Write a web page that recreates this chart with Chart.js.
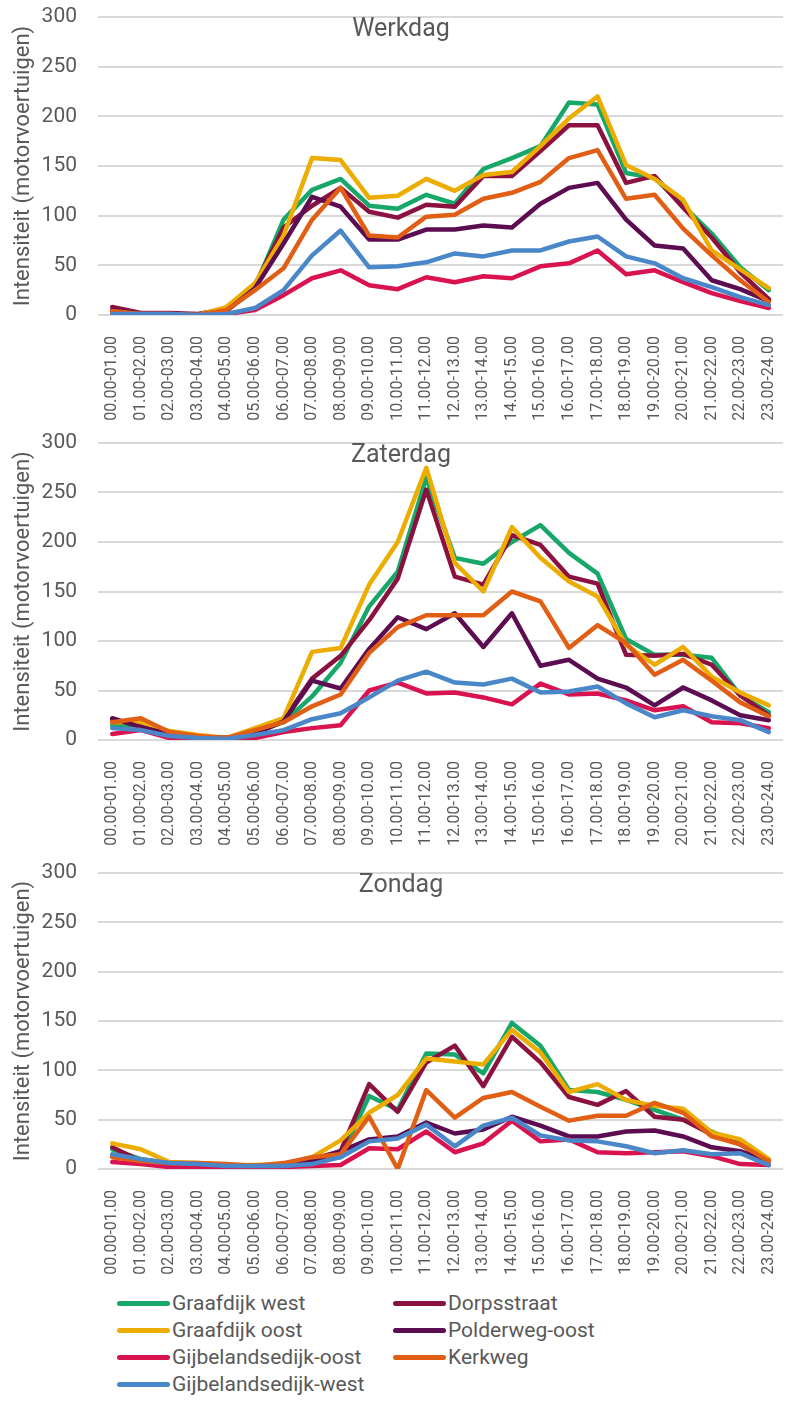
<!DOCTYPE html>
<html><head><meta charset="utf-8">
<script src="https://cdn.jsdelivr.net/npm/chart.js@4.4.1/dist/chart.umd.min.js"></script>
<style>
html,body{margin:0;padding:0;background:#fff;}
body{width:793px;height:1402px;overflow:hidden;position:relative;font-family:Roboto;}
canvas.panel{position:absolute;left:0;}
.item{position:absolute;display:flex;align-items:center;height:27px;line-height:27px;font-size:21px;color:#595959;white-space:nowrap;}
.swatch{width:53px;height:5px;border-radius:2.5px;margin-right:2px;flex:none;}
</style></head><body>
<canvas id="c1" class="panel" width="801" height="430" style="top:0px"></canvas>
<canvas id="c2" class="panel" width="801" height="430" style="top:430px"></canvas>
<canvas id="c3" class="panel" width="801" height="420" style="top:860px"></canvas>
<div id="legend"></div>
<script>
const hours = ["00.00-01.00","01.00-02.00","02.00-03.00","03.00-04.00","04.00-05.00","05.00-06.00",
  "06.00-07.00","07.00-08.00","08.00-09.00","09.00-10.00","10.00-11.00","11.00-12.00",
  "12.00-13.00","13.00-14.00","14.00-15.00","15.00-16.00","16.00-17.00","17.00-18.00",
  "18.00-19.00","19.00-20.00","20.00-21.00","21.00-22.00","22.00-23.00","23.00-24.00"];
const yTicks = [0, 50, 100, 150, 200, 250, 300];
const seriesNames = ["Graafdijk west","Dorpsstraat","Graafdijk oost","Polderweg-oost","Gijbelandsedijk-oost","Kerkweg","Gijbelandsedijk-west"];
const seriesColors = ["#17a768","#8b1240","#ecad00","#5c0c50","#d9134f","#e15e15","#4a87c9"];
const dayTitles = ["Werkdag","Zaterdag","Zondag"];
const yTitle = "Intensiteit (motorvoertuigen)";

// Werkdag
const wdGraafdijkWest   = [3,1,1,0,5,28,96,126,137,110,107,121,112,147,158,170,214,212,143,138,110,82,48,25];
const wdDorpsstraat     = [8,2,2,1,6,30,88,110,128,104,98,111,109,140,140,165,191,191,133,140,108,78,43,16];
const wdGraafdijkOost   = [3,1,1,0,8,32,80,158,156,118,120,137,125,141,144,170,198,220,151,137,116,65,46,27];
const wdPolderwegOost   = [5,1,1,0,4,27,72,119,109,76,76,86,86,90,88,112,128,133,96,70,67,35,26,14];
const wdGijbelandOost   = [1,1,1,0,1,5,20,37,45,30,26,38,33,39,37,49,52,65,41,45,33,22,14,7];
const wdKerkweg         = [4,1,1,0,5,25,47,96,128,80,78,99,101,117,123,134,158,166,117,121,87,60,35,13];
const wdGijbelandWest   = [1,1,1,0,1,7,25,60,85,48,49,53,62,59,65,65,74,79,59,52,37,28,18,10];

// Zaterdag
const zaGraafdijkWest   = [15,15,5,3,2,8,18,44,78,135,170,265,184,178,200,217,189,168,102,86,86,83,45,28];
const zaDorpsstraat     = [20,15,6,3,2,8,20,62,85,121,163,253,165,157,207,197,165,158,86,85,87,76,45,25];
const zaGraafdijkOost   = [18,18,9,5,2,12,22,89,93,157,200,275,179,150,215,184,160,145,96,76,94,64,48,35];
const zaPolderwegOost   = [22,13,6,3,2,6,19,60,52,92,124,112,128,94,128,75,81,62,53,35,53,40,25,20];
const zaGijbelandOost   = [6,10,2,1,1,2,8,12,15,50,58,47,48,43,36,57,46,47,40,30,34,18,17,12];
const zaKerkweg         = [18,22,8,4,2,10,18,34,46,88,114,126,126,126,150,140,93,116,98,66,81,60,38,24];
const zaGijbelandWest   = [12,10,4,2,1,5,10,21,27,43,60,69,58,56,62,48,49,54,37,23,30,24,20,8];

// Zondag
const zoGraafdijkWest   = [20,10,6,5,3,3,3,10,12,74,60,117,116,97,148,125,80,78,70,60,50,38,25,10];
const zoDorpsstraat     = [22,8,6,5,3,3,3,10,18,86,58,108,125,84,134,108,73,65,79,53,50,35,25,8];
const zoGraafdijkOost   = [26,20,7,6,4,4,5,12,29,57,75,112,109,106,141,118,78,86,70,64,61,37,30,10];
const zoPolderwegOost   = [14,8,5,4,3,3,3,8,18,30,33,47,36,40,53,44,33,33,38,39,33,22,18,8];
const zoGijbelandOost   = [7,5,2,2,1,1,2,3,4,21,20,38,17,26,49,28,30,17,16,17,18,13,5,4];
const zoKerkweg         = [12,8,6,6,5,3,6,12,15,53,0,80,52,72,78,63,49,54,54,67,57,33,25,8];
const zoGijbelandWest   = [15,10,6,5,3,3,3,5,12,28,31,45,23,44,52,34,29,28,23,16,19,15,16,4];

const daySeries = [
  [wdGraafdijkWest, wdDorpsstraat, wdGraafdijkOost, wdPolderwegOost, wdGijbelandOost, wdKerkweg, wdGijbelandWest],
  [zaGraafdijkWest, zaDorpsstraat, zaGraafdijkOost, zaPolderwegOost, zaGijbelandOost, zaKerkweg, zaGijbelandWest],
  [zoGraafdijkWest, zoDorpsstraat, zoGraafdijkOost, zoPolderwegOost, zoGijbelandOost, zoKerkweg, zoGijbelandWest]
];

Chart.defaults.font.family = 'Roboto';
Chart.defaults.color = '#595959';

const panelTitle = {
  id: 'panelTitle',
  afterDraw(chart, args, opts) {
    const ctx = chart.ctx;
    ctx.save();
    ctx.font = '25px Roboto';
    ctx.fillStyle = '#595959';
    ctx.textAlign = 'center';
    ctx.textBaseline = 'alphabetic';
    ctx.fillText(opts.text, opts.x, chart.chartArea.top + 19);
    ctx.restore();
  }
};

const layouts = [
  {id: 'c1', top: 17, xh: 115},
  {id: 'c2', top: 13, xh: 120},
  {id: 'c3', top: 13, xh: 111}
];

layouts.forEach((L, d) => {
  const n = seriesNames.length;
  new Chart(document.getElementById(L.id), {
    type: 'line',
    data: {
      labels: hours,
      datasets: seriesNames.map((name, i) => ({
        label: name,
        data: daySeries[d][i],
        borderColor: seriesColors[i],
        backgroundColor: seriesColors[i],
        order: n - 1 - i
      }))
    },
    options: {
      responsive: false,
      animation: false,
      layout: {padding: {top: L.top, left: 0, right: 0, bottom: 0}},
      plugins: {
        legend: {display: false},
        tooltip: {enabled: false},
        panelTitle: {text: dayTitles[d], x: 401}
      },
      elements: {
        point: {radius: 0, hoverRadius: 0},
        line: {borderWidth: 4.5, tension: 0, borderJoinStyle: 'round', borderCapStyle: 'round'}
      },
      scales: {
        x: {
          type: 'category', offset: true,
          grid: {display: false}, border: {display: false},
          ticks: {autoSkip: false, maxRotation: 90, minRotation: 90, padding: 13, font: {size: 16}, color: '#595959'},
          afterFit(s) { s.height = L.xh; }
        },
        y: {
          min: 0, max: 300,
          afterBuildTicks(s) { s.ticks = yTicks.map(v => ({value: v})); },
          ticks: {padding: 21, font: {size: 21}, color: '#595959'},
          grid: {color: '#d9d9d9', lineWidth: 2, drawTicks: false},
          border: {display: false},
          title: {display: true, text: yTitle, font: {size: 22}, color: '#595959', padding: {top: 10, bottom: 0}},
          afterFit(s) { s.width = 98; s.paddingTop = 0; s.paddingBottom = 0; }
        }
      }
    },
    plugins: [panelTitle]
  });
});

// HTML legend built from the series arrays
const legend = document.getElementById('legend');
const legendRowTops = [1290, 1317, 1344, 1371];
const legendCols = [117, 393];
seriesNames.forEach((name, i) => {
  const row = Math.floor(i / 2), col = i % 2;
  const it = document.createElement('div');
  it.className = 'item';
  it.style.left = legendCols[col] + 'px';
  it.style.top = legendRowTops[row] + 'px';
  const sw = document.createElement('span');
  sw.className = 'swatch';
  sw.style.background = seriesColors[i];
  const tx = document.createElement('span');
  tx.textContent = name;
  it.appendChild(sw); it.appendChild(tx);
  legend.appendChild(it);
});
</script>
</body></html>
